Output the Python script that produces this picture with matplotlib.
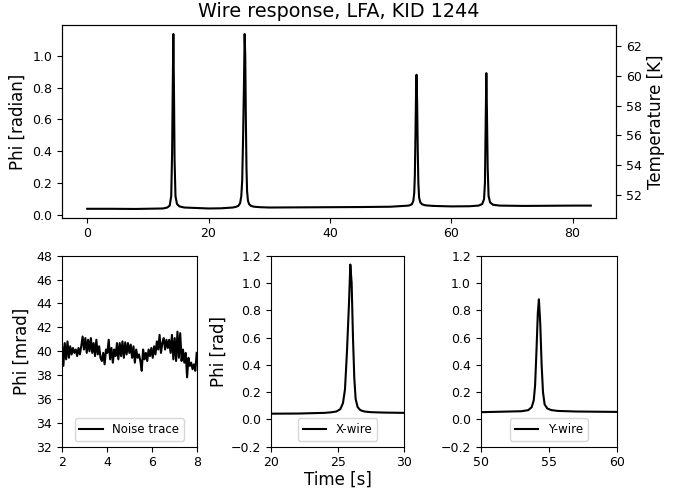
import numpy as np
import matplotlib
matplotlib.use("Agg")
import matplotlib.pyplot as plt

# Full trace (time in s, phase in rad)
time_s = [0, 4, 8, 12.5, 13.2, 13.6, 13.85, 14.0, 14.1, 14.2, 14.3, 14.4, 14.55, 14.8,
          15.2, 16.0, 20, 22, 24.0, 24.5, 24.9, 25.2, 25.4, 25.55, 25.7, 25.85, 25.95,
          26.05, 26.15, 26.25, 26.35, 26.5, 26.7, 27.0, 27.5, 28.5, 30, 35, 40, 45, 50,
          53.0, 53.5, 53.75, 53.9, 54.0, 54.1, 54.2, 54.28, 54.38, 54.48, 54.58, 54.7,
          54.9, 55.2, 55.7, 57, 60, 63, 64.5, 65.1, 65.4, 65.55, 65.68, 65.78, 65.88,
          66.0, 66.15, 66.4, 66.9, 68, 72, 76, 80, 83]
phi_rad = [0.040, 0.040, 0.039, 0.042, 0.048, 0.060, 0.12, 0.40, 0.80, 1.135, 0.80, 0.35,
           0.12, 0.070, 0.055, 0.048, 0.042, 0.043, 0.048, 0.052, 0.058, 0.075, 0.12,
           0.22, 0.50, 0.85, 1.135, 1.00, 0.60, 0.30, 0.15, 0.09, 0.068, 0.058, 0.053,
           0.050, 0.048, 0.049, 0.050, 0.051, 0.053, 0.060, 0.068, 0.09, 0.14, 0.25,
           0.50, 0.78, 0.88, 0.70, 0.40, 0.20, 0.11, 0.08, 0.068, 0.062, 0.058, 0.055,
           0.056, 0.060, 0.070, 0.10, 0.20, 0.60, 0.89, 0.65, 0.30, 0.12, 0.08, 0.065,
           0.060, 0.058, 0.059, 0.060, 0.060]

# Noise trace (mrad) sampled evenly between 2 s and 8 s
noise_mrad = [40.68, 38.77, 40.68, 39.32, 40.82, 39.45, 40.41, 39.73, 40.27, 39.86,
              40.14, 39.59, 40.27, 39.73, 40.41, 41.23, 40.14, 41.10, 39.86, 40.96,
              40.00, 41.10, 39.86, 40.68, 39.59, 40.96, 39.73, 40.41, 39.45, 39.18,
              39.86, 38.90, 40.14, 39.86, 40.96, 39.32, 40.27, 39.04, 40.14, 39.59,
              40.68, 39.32, 40.68, 39.59, 40.82, 39.45, 40.74, 39.73, 40.68, 39.86,
              40.55, 39.45, 40.41, 39.04, 40.14, 39.45, 39.73, 39.18, 38.36, 40.14,
              39.32, 39.86, 39.18, 40.14, 39.59, 40.27, 39.45, 40.41, 39.73, 40.82,
              40.14, 41.37, 39.86, 40.68, 41.10, 40.14, 40.96, 40.27, 40.96, 39.86,
              41.37, 39.32, 41.10, 39.18, 41.64, 39.45, 41.51, 39.18, 40.14, 39.04,
              39.86, 37.81, 39.45, 38.77, 39.04, 38.49, 38.90, 38.36, 39.86]
noise_t = np.linspace(2, 8, len(noise_mrad))

temp_ticks = [52, 54, 56, 58, 60, 62]

fig = plt.figure(figsize=(6.81, 4.90), dpi=100)
W, H = 681.0, 490.0

def rect(l, r, t, b):
    return [l / W, 1 - b / H, (r - l) / W, (b - t) / H]

TICK = 9
LEG = 8.5
ax = fig.add_axes(rect(62, 616, 25.3, 217.7))
ax.plot(time_s, phi_rad, color="black", lw=1.5)
ax.set_ylabel("Phi [radian]", fontsize=12)
ax.set_title("Wire response, LFA, KID 1244", fontsize=13.8)
ax.set_xticks([0, 20, 40, 60, 80])
ax.tick_params(labelsize=TICK)
axr = ax.twinx()
axr.set_ylim(50.44, 63.43)
axr.set_yticks(temp_ticks)
axr.set_ylabel("Temperature [K]", fontsize=12)
axr.tick_params(labelsize=TICK)

b_top, b_bot = 255.7, 446.7
a1 = fig.add_axes(rect(62, 196.7, b_top, b_bot))
a1.plot(noise_t, noise_mrad, color="black", lw=1.5, label="Noise trace")
a1.set_xlim(2, 8)
a1.set_ylim(32, 48)
a1.set_xticks([2, 4, 6, 8])
a1.set_yticks(range(32, 49, 2))
a1.set_ylabel("Phi [mrad]", fontsize=12)
a1.legend(loc="lower center", fontsize=LEG)
a1.tick_params(labelsize=TICK)

a2 = fig.add_axes(rect(271, 404.3, b_top, b_bot))
a2.plot(time_s, phi_rad, color="black", lw=1.5, label="X-wire")
a2.set_xlim(20, 30)
a2.set_ylim(-0.2, 1.2)
a2.set_xticks([20, 25, 30])
a2.set_yticks(np.round(np.arange(-0.2, 1.21, 0.2), 1))
a2.set_ylabel("Phi [rad]", fontsize=12, labelpad=2)
a2.set_xlabel("Time [s]", fontsize=12, labelpad=1)
a2.legend(loc="lower center", fontsize=LEG)
a2.tick_params(labelsize=TICK)

a3 = fig.add_axes(rect(480.7, 616.7, b_top, b_bot))
a3.plot(time_s, phi_rad, color="black", lw=1.5, label="Y-wire")
a3.set_xlim(50, 60)
a3.set_ylim(-0.2, 1.2)
a3.set_xticks([50, 55, 60])
a3.set_yticks(np.round(np.arange(-0.2, 1.21, 0.2), 1))
a3.legend(loc="lower center", fontsize=LEG)
a3.tick_params(labelsize=TICK)

fig.savefig("out.png", dpi=100)
